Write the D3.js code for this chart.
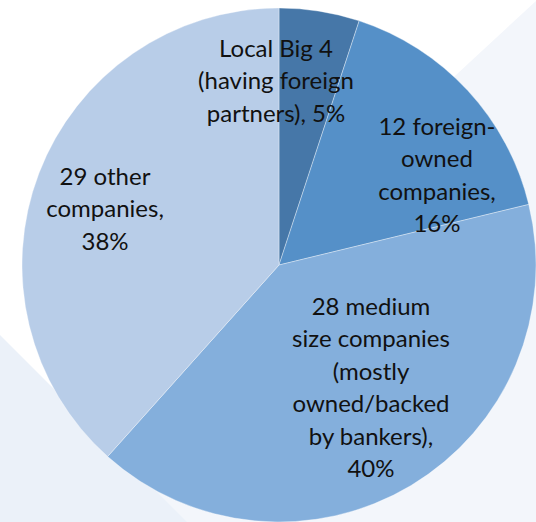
<!DOCTYPE html>
<html>
<head>
<meta charset="utf-8">
<script src="https://cdn.jsdelivr.net/npm/d3@7"></script>
<style>
  body { margin: 0; background: #fff; }
  svg { display: block; }
  .slice-label { font-family: Lato, "Open Sans", sans-serif; fill: #111; }
</style>
</head>
<body>
<svg id="chart"></svg>
<script>
// Chart data
const categories = [
  'Local Big 4 (having foreign partners)',
  '12 foreign-owned companies',
  '28 medium size companies (mostly owned/backed by bankers)',
  '29 other companies'
];
const shares = [5, 16, 40, 38];
const labelLines = [
  ['Local Big 4', '(having foreign', 'partners), 5%'],
  ['12 foreign-', 'owned', 'companies,', '16%'],
  ['28 medium', 'size companies', '(mostly', 'owned/backed', 'by bankers),', '40%'],
  ['29 other', 'companies,', '38%']
];
const colors = ['#4677a8', '#5590c8', '#84afdc', '#b8cde8'];

// Layout
const width = 536, height = 522;
const cx = 279, cy = 265, radius = 257;
const lineHeight = 32.4;
// label block anchors (center x, first baseline) relative to pie centre
const labelAnchors = [[-3, -208], [158, -130], [92, 50], [-174, -80]];

const svg = d3.select('#chart')
  .attr('width', width)
  .attr('height', height);

// Background slide shapes
svg.append('polygon')
  .attr('points', '537,0 536,522 -27,522')
  .attr('fill', '#f3f6fb');
svg.append('polygon')
  .attr('points', '0,335 0,522 187,522')
  .attr('fill', '#ebf1f9');

const g = svg.append('g')
  .attr('transform', `translate(${cx},${cy})`);

const pie = d3.pie().sort(null).value(d => d);
const arc = d3.arc().innerRadius(0).outerRadius(radius);
const arcs = pie(shares);

g.selectAll('.slice')
  .data(arcs)
  .join('path')
  .attr('class', 'slice')
  .attr('d', arc)
  .attr('fill', (d, i) => colors[i])
  .attr('stroke', 'rgba(255,255,255,0.45)')
  .attr('stroke-width', 0.8);

// Labels
const labels = g.selectAll('.slice-label')
  .data(arcs)
  .join('text')
  .attr('class', 'slice-label')
  .attr('text-anchor', 'middle')
  .style('font-size', '24px');

labels.each(function(d, i) {
  const t = d3.select(this);
  labelLines[i].forEach((line, j) => {
    t.append('tspan')
      .attr('x', labelAnchors[i][0])
      .attr('y', labelAnchors[i][1] + j * lineHeight)
      .text(line);
  });
});
</script>
</body>
</html>
